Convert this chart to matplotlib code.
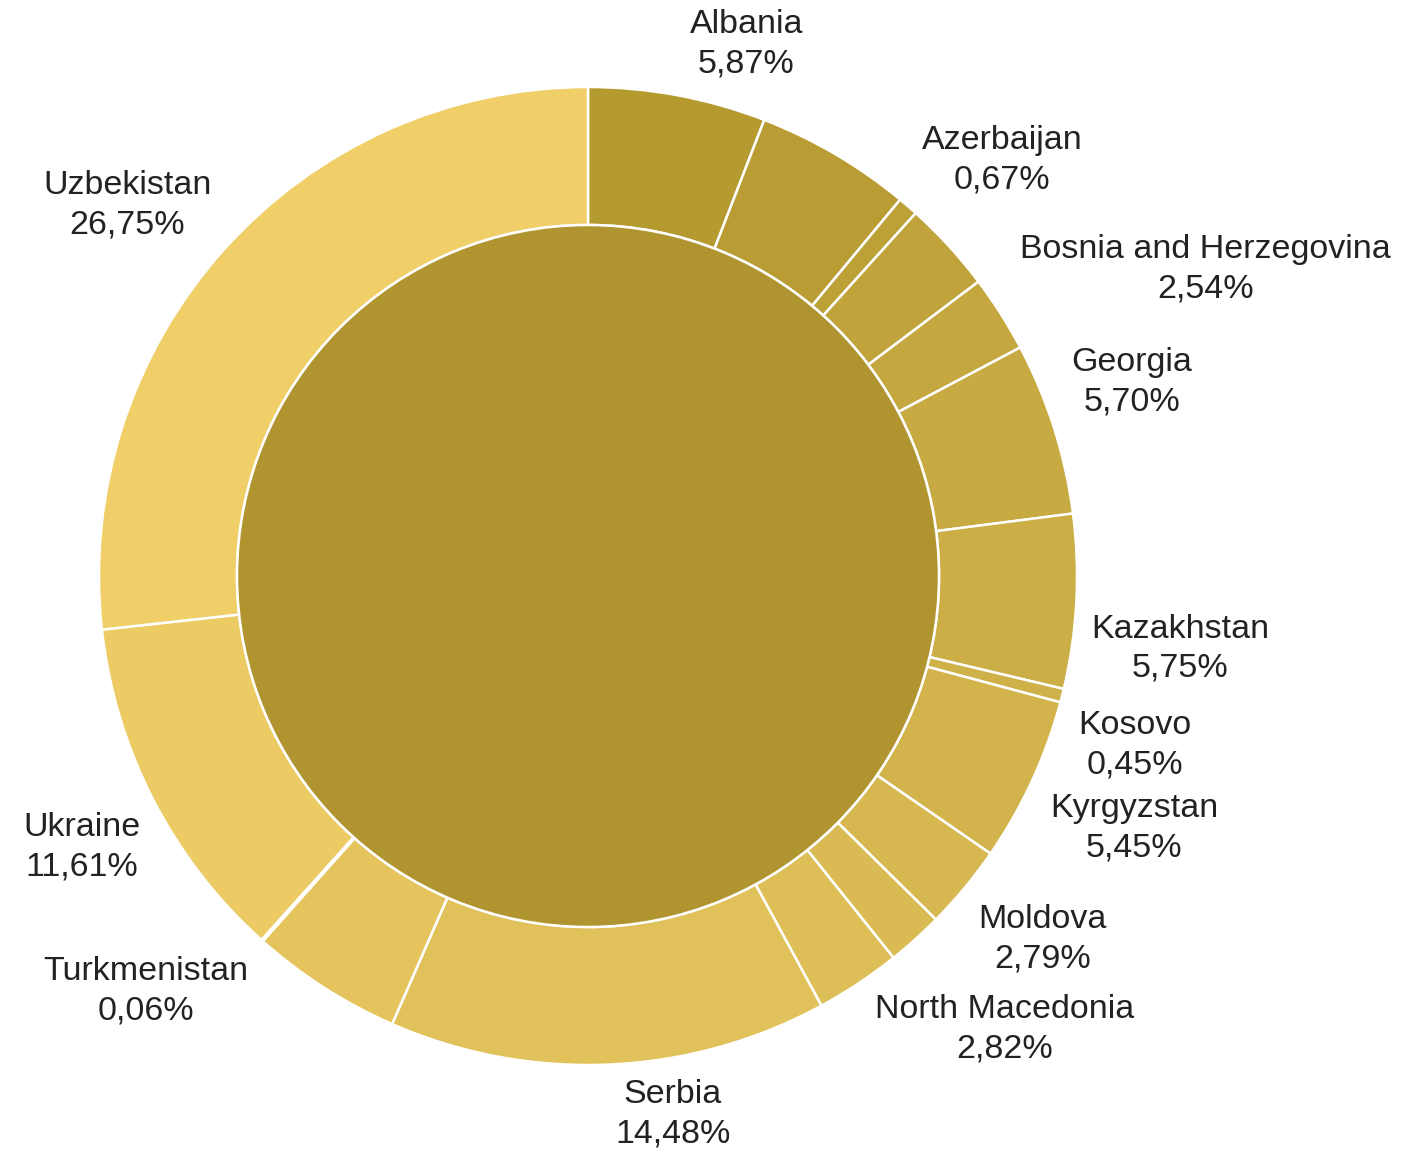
import numpy as np
import matplotlib.pyplot as plt
from matplotlib.colors import to_rgb

countries = ["Albania", "Armenia", "Azerbaijan", "Belarus", "Bosnia and Herzegovina",
             "Georgia", "Kazakhstan", "Kosovo", "Kyrgyzstan", "Moldova", "Montenegro",
             "North Macedonia", "Serbia", "Tajikistan", "Turkmenistan", "Ukraine", "Uzbekistan"]
shares = [5.87, 5.15, 0.67, 3.03, 2.54, 5.70, 5.75, 0.45, 5.45, 2.79, 1.86,
          2.82, 14.48, 5.02, 0.06, 11.61, 26.75]
# which slices carry a visible label in the original
shown = [True, False, True, False, True, True, True, True, True, True, False,
         True, True, False, True, True, True]

# label placement tweaks: (angle nudge in degrees, radius as fraction of R)
label_pos = {
    "Albania": (6, 1.135), "Azerbaijan": (4, 1.2), "Bosnia and Herzegovina": (6, 1.41),
    "Georgia": (-2, 1.18), "Kazakhstan": (4, 1.22), "Kosovo": (3, 1.17),
    "Kyrgyzstan": (0, 1.23), "Moldova": (-1, 1.19), "North Macedonia": (-9, 1.26),
    "Serbia": (-6.5, 1.115), "Turkmenistan": (5, 1.24), "Ukraine": (-1, 1.175),
    "Uzbekistan": (-3, 1.21),
}

W, H = 1401, 1156
cx, cy = 588, H - 576
R, r_in = 489, 351

dark = np.array(to_rgb("#b59a30"))
light = np.array(to_rgb("#f0ce68"))
n = len(shares)
ring_colors = [tuple(dark + (light - dark) * i / (n - 1)) for i in range(n)]

fig = plt.figure(figsize=(W / 100, H / 100), dpi=100)
ax = fig.add_axes([0, 0, 1, 1])

ax.pie(shares, radius=R, center=(cx, cy), startangle=90, counterclock=False,
       colors=ring_colors, wedgeprops=dict(width=R - r_in, edgecolor="white", linewidth=1.8))
ax.pie([100], radius=r_in, center=(cx, cy), startangle=90, colors=["#b09430"],
       wedgeprops=dict(edgecolor="white", linewidth=1.8))

ax.set_xlim(0, W)
ax.set_ylim(0, H)
ax.axis("off")

total = sum(shares)
cum = 0
for name, val, vis in zip(countries, shares, shown):
    mid = (cum + val / 2) / total * 360
    cum += val
    if not vis:
        continue
    nudge, rf = label_pos[name]
    th = np.deg2rad(mid + nudge)
    x = cx + rf * R * np.sin(th)
    y = cy + rf * R * np.cos(th)
    txt = f"{name}\n{val:.2f}%".replace(".", ",")
    ax.text(x, y, txt, ha="center", va="center", multialignment="center",
            fontsize=24.5, family="Liberation Sans", color="#222222", linespacing=1.35)

fig.savefig("out.png", dpi=100)
